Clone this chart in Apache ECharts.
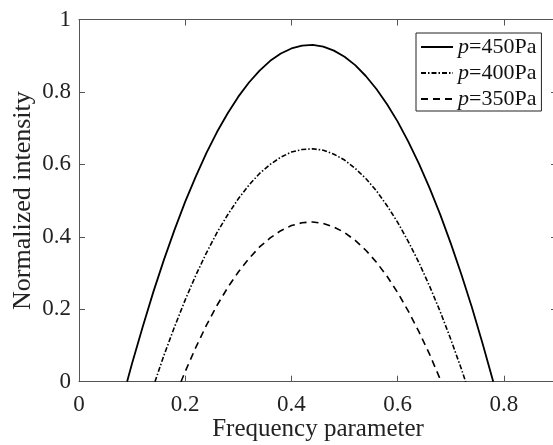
<!DOCTYPE html>
<html>
<head>
<meta charset="utf-8">
<script src="https://cdn.jsdelivr.net/npm/echarts@6/dist/echarts.min.js"></script>
<style>html,body{margin:0;padding:0;background:#fff}#c{width:553px;height:445px}</style>
</head>
<body>
<div id="c"></div>
<script>
const seriesNames = ['450Pa', '400Pa', '350Pa'];
const xTitle = 'Frequency parameter';
const yTitle = 'Normalized intensity';

const p450 = [[0.0905,0],[0.10,0.051],[0.12,0.152],[0.14,0.248],[0.16,0.337],[0.18,0.420],[0.20,0.497],[0.22,0.567],[0.24,0.632],[0.26,0.690],[0.28,0.741],[0.30,0.787],[0.32,0.826],[0.34,0.859],[0.36,0.886],[0.38,0.906],[0.40,0.920],[0.42,0.928],[0.44,0.930],[0.46,0.925],[0.48,0.914],[0.50,0.897],[0.52,0.874],[0.54,0.844],[0.56,0.808],[0.58,0.766],[0.60,0.718],[0.62,0.663],[0.64,0.602],[0.66,0.535],[0.68,0.462],[0.70,0.382],[0.72,0.296],[0.74,0.204],[0.76,0.105],[0.780,0]];
const p400 = [[0.143,0],[0.16,0.073],[0.18,0.152],[0.20,0.226],[0.22,0.294],[0.24,0.356],[0.26,0.412],[0.28,0.461],[0.30,0.505],[0.32,0.543],[0.34,0.575],[0.36,0.600],[0.38,0.620],[0.40,0.634],[0.42,0.641],[0.44,0.643],[0.46,0.639],[0.48,0.628],[0.50,0.612],[0.52,0.589],[0.54,0.561],[0.56,0.527],[0.58,0.486],[0.60,0.440],[0.62,0.387],[0.64,0.329],[0.66,0.264],[0.68,0.194],[0.70,0.117],[0.72,0.035],[0.728,0]];
const p350 = [[0.192,0],[0.20,0.028],[0.22,0.095],[0.24,0.156],[0.26,0.211],[0.28,0.260],[0.30,0.303],[0.32,0.340],[0.34,0.372],[0.36,0.397],[0.38,0.417],[0.40,0.431],[0.42,0.439],[0.44,0.441],[0.46,0.437],[0.48,0.427],[0.50,0.412],[0.52,0.390],[0.54,0.363],[0.56,0.330],[0.58,0.291],[0.60,0.246],[0.62,0.195],[0.64,0.138],[0.66,0.076],[0.68,0.007],[0.682,0]];

const FONT = '"Liberation Serif", "Times New Roman", serif';
const axisCol = '#555';

const chart = echarts.init(document.getElementById('c'), null, {renderer: 'canvas'});
const lineTypes = ['solid', [5, 2, 1.5, 2], [7, 5]];
const datasets = [p450, p400, p350];
const tick = {show: true, inside: false, length: -6, lineStyle: {color: axisCol, width: 1}};

chart.setOption({
  animation: false,
  backgroundColor: '#fff',
  grid: {left: 79, top: 19.5, right: -4, bottom: 63.3, containLabel: false, outerBoundsMode: 'none'},
  legend: {
    orient: 'vertical',
    left: 416, top: 33,
    padding: [3, 5, 1, 4],
    itemGap: 4,
    itemWidth: 32, itemHeight: 14,
    backgroundColor: '#fff',
    borderColor: '#222', borderWidth: 1,
    borderRadius: 0,
    itemStyle: {color: 'rgba(0,0,0,0)', borderWidth: 0, opacity: 0},
    textStyle: {fontFamily: FONT, fontSize: 22, color: '#111',
      rich: {i: {fontFamily: FONT, fontSize: 22, fontStyle: 'italic', color: '#111'}}},
    formatter: function (name) { return '{i|p}=' + name; },
    data: seriesNames
  },
  xAxis: [{
    type: 'value', min: 0, max: 0.9, interval: 0.2, position: 'bottom',
    name: xTitle, nameLocation: 'middle', nameGap: 35, nameMoveOverlap: false,
    nameTextStyle: {fontFamily: FONT, fontSize: 25, color: '#222'},
    axisLine: {show: true, onZero: false, lineStyle: {color: axisCol, width: 1}},
    axisTick: tick,
    axisLabel: {fontFamily: FONT, fontSize: 23, color: '#222', margin: 12, showMaxLabel: false,
      formatter: function (v) { return String(+v.toFixed(1)); }},
    splitLine: {show: false}
  }, {
    type: 'value', min: 0, max: 0.9, interval: 0.2, position: 'top',
    axisLine: {show: true, onZero: false, lineStyle: {color: axisCol, width: 1}},
    axisTick: tick,
    axisLabel: {show: false}, splitLine: {show: false}
  }],
  yAxis: [{
    type: 'value', min: 0, max: 1, interval: 0.2, position: 'left',
    name: yTitle, nameLocation: 'middle', nameGap: 43, nameMoveOverlap: false,
    nameTextStyle: {fontFamily: FONT, fontSize: 26, color: '#222'},
    axisLine: {show: true, onZero: false, lineStyle: {color: axisCol, width: 1}},
    axisTick: tick,
    axisLabel: {fontFamily: FONT, fontSize: 23, color: '#222', margin: 8,
      formatter: function (v) { return String(+v.toFixed(1)); }},
    splitLine: {show: false}
  }, {
    type: 'value', min: 0, max: 1, interval: 0.2, position: 'right',
    axisLine: {show: true, onZero: false, lineStyle: {color: axisCol, width: 1}},
    axisTick: tick,
    axisLabel: {show: false}, splitLine: {show: false}
  }],
  series: seriesNames.map(function (n, i) {
    return {
      name: n, type: 'line', xAxisIndex: 0, yAxisIndex: 0,
      data: datasets[i], showSymbol: false, symbol: 'none', smooth: false,
      color: '#000',
      lineStyle: {color: '#000', width: i === 0 ? 1.8 : 1.6, type: lineTypes[i]}
    };
  })
});
</script>
</body>
</html>
